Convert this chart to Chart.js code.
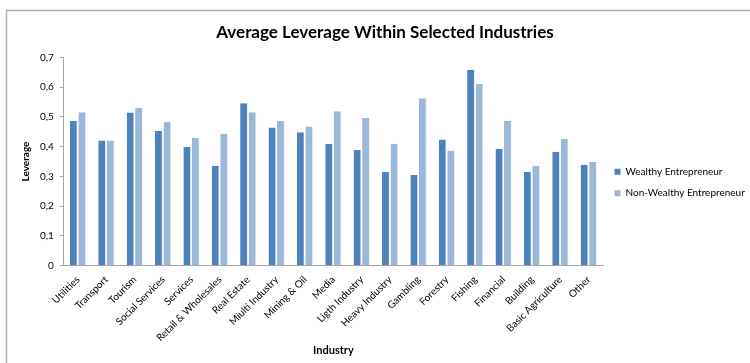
<!DOCTYPE html>
<html>
<head>
<meta charset="utf-8">
<script src="https://cdn.jsdelivr.net/npm/chart.js@4/dist/chart.umd.min.js"></script>
<style>
  html, body { margin: 0; padding: 0; background: #fff; }
  #wrap { width: 750px; height: 363px; position: relative; }
</style>
</head>
<body>
<div id="wrap"><canvas id="chart" width="750" height="363"></canvas></div>
<script>
// Industries on the x axis
const industries = [
  'Utilities', 'Transport', 'Tourism', 'Social Services', 'Services',
  'Retail & Wholesales', 'Real Estate', 'Miulti Industry', 'Mining & Oil', 'Media',
  'Ligth Industry', 'Heavy Industry', 'Gambling', 'Forestry', 'Fishing',
  'Financial', 'Building', 'Basic Agriculture', 'Other'
];

// Average leverage
const wealthy = [
  0.486, 0.421, 0.515, 0.453, 0.400,
  0.336, 0.546, 0.464, 0.448, 0.410,
  0.389, 0.315, 0.305, 0.424, 0.658,
  0.393, 0.315, 0.383, 0.338
];
const nonWealthy = [
  0.516, 0.421, 0.531, 0.484, 0.430,
  0.443, 0.516, 0.486, 0.468, 0.519,
  0.496, 0.410, 0.563, 0.386, 0.611,
  0.486, 0.335, 0.426, 0.348
];

const FONT = 'Lato, "Open Sans", sans-serif';
const axisGray = '#a6a6a6';

// frame round the whole chart, like the Excel chart area border
const framePlugin = {
  id: 'frame',
  beforeDraw(chart) {
    const c = chart.ctx;
    c.save();
    c.strokeStyle = '#b0b0b0';
    c.lineWidth = 1.5;
    c.strokeRect(6.5, 10.5, chart.width + 20, chart.height + 20);
    c.restore();
  }
};

new Chart(document.getElementById('chart'), {
  type: 'bar',
  data: {
    labels: industries,
    datasets: [
      {
        label: 'Wealthy Entrepreneur',
        data: wealthy,
        backgroundColor: '#4F81BD',
        borderColor: 'rgba(0,0,0,0.06)',
        borderWidth: { right: 1 },
        categoryPercentage: 0.6,
        barPercentage: 0.92
      },
      {
        label: 'Non-Wealthy Entrepreneur',
        data: nonWealthy,
        backgroundColor: '#9BB7D9',
        borderColor: 'rgba(0,0,0,0.06)',
        borderWidth: { right: 1 },
        categoryPercentage: 0.6,
        barPercentage: 0.92
      }
    ]
  },
  options: {
    responsive: false,
    animation: false,
    devicePixelRatio: 1,
    layout: { padding: { left: 20, right: 0, top: 18, bottom: 6 } },
    plugins: {
      title: {
        display: true,
        text: 'Average Leverage Within Selected Industries',
        color: '#000',
        font: { family: FONT, size: 17, weight: 'bold' },
        padding: { top: 4, bottom: 15 }
      },
      legend: {
        position: 'right',
        fullSize: false,
        maxWidth: 147,
        // empty title only pushes the entries down to where Excel put them
        title: { display: true, text: ' ', font: { size: 10 }, padding: { top: 15, bottom: 15 } },
        labels: {
          color: '#000',
          font: { family: FONT, size: 10 },
          boxWidth: 6,
          boxHeight: 6,
          padding: 11.5
        }
      },
      tooltip: { enabled: false }
    },
    scales: {
      x: {
        grid: { display: false },
        border: { color: axisGray, width: 1 },
        ticks: {
          color: '#000',
          font: { family: FONT, size: 10 },
          minRotation: 45,
          maxRotation: 45,
          autoSkip: false,
          padding: 0
        },
        title: {
          display: true,
          text: 'Industry',
          color: '#000',
          font: { family: FONT, size: 11, weight: 'bold' },
          padding: { top: 0, bottom: 0 }
        }
      },
      y: {
        min: 0,
        max: 0.7,
        grid: {
          drawOnChartArea: false,
          drawTicks: true,
          tickLength: 4,
          color: axisGray
        },
        border: { color: axisGray, width: 1 },
        ticks: {
          stepSize: 0.1,
          color: '#000',
          font: { family: FONT, size: 10 },
          padding: 6,
          callback: v => (v === 0 ? '0' : v.toFixed(1).replace('.', ','))
        },
        title: {
          display: true,
          text: 'Leverage',
          color: '#000',
          font: { family: FONT, size: 10, weight: 'bold' },
          padding: { top: 0, bottom: 2 }
        }
      }
    }
  },
  plugins: [framePlugin]
});
</script>
</body>
</html>
